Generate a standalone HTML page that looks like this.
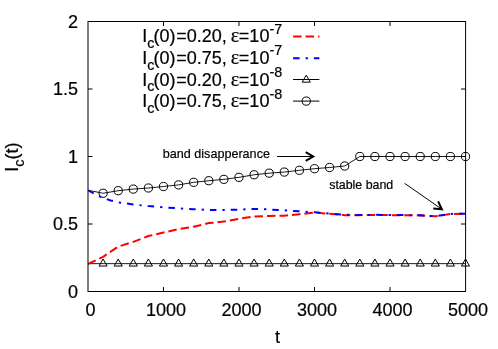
<!DOCTYPE html>
<html><head><meta charset="utf-8"><title>chart</title>
<style>
html,body{margin:0;padding:0;background:#fff;}
svg{display:block;will-change:transform;}
text{font-family:"Liberation Sans",sans-serif;fill:#000;stroke:#000;stroke-width:0.2;}
</style></head><body>
<svg width="498" height="349" viewBox="0 0 498 349">
<rect width="498" height="349" fill="#fff"/>
<g stroke="#000" stroke-width="1" fill="none">
<path d="M163.50,291.5 v-4.5 M163.50,21.5 v4.5"/>
<path d="M239.00,291.5 v-4.5 M239.00,21.5 v4.5"/>
<path d="M314.50,291.5 v-4.5 M314.50,21.5 v4.5"/>
<path d="M390.00,291.5 v-4.5 M390.00,21.5 v4.5"/>
<path d="M88.0,224.00 h4.5 M465.5,224.00 h-4.5"/>
<path d="M88.0,156.50 h4.5 M465.5,156.50 h-4.5"/>
<path d="M88.0,89.00 h4.5 M465.5,89.00 h-4.5"/>
</g>
<g font-size="18" text-anchor="end">
<text x="78.0" y="297.80">0</text>
<text x="78.0" y="230.30">0.5</text>
<text x="78.0" y="162.80">1</text>
<text x="78.0" y="95.30">1.5</text>
<text x="78.0" y="27.80">2</text>
</g>
<g font-size="18" text-anchor="middle">
<text x="90.50" y="315.7">0</text>
<text x="166.00" y="315.7">1000</text>
<text x="241.50" y="315.7">2000</text>
<text x="317.00" y="315.7">3000</text>
<text x="392.50" y="315.7">4000</text>
<text x="468.00" y="315.7">5000</text>
<text x="277.4" y="343.1">t</text>
</g>
<text font-size="18" text-anchor="middle" transform="translate(18.4,157.1) rotate(-90)">I<tspan font-size="14.4" dy="5.5">c</tspan><tspan dy="-5.5">(t)</tspan></text>
<text font-size="18" x="142.2" y="42.4">I<tspan font-size="14.4" dy="5.5">c</tspan><tspan dy="-5.5" dx="-0.9">(0)</tspan><tspan dx="0.7">=0.20, </tspan><tspan font-family="Liberation Serif" font-size="20" dx="-1">ε</tspan><tspan dx="-0.3">=10</tspan><tspan font-size="14.4" dy="-8.6">-7</tspan></text>
<text font-size="18" x="142.2" y="64.0">I<tspan font-size="14.4" dy="5.5">c</tspan><tspan dy="-5.5" dx="-0.9">(0)</tspan><tspan dx="0.7">=0.75, </tspan><tspan font-family="Liberation Serif" font-size="20" dx="-1">ε</tspan><tspan dx="-0.3">=10</tspan><tspan font-size="14.4" dy="-8.6">-7</tspan></text>
<text font-size="18" x="142.2" y="85.5">I<tspan font-size="14.4" dy="5.5">c</tspan><tspan dy="-5.5" dx="-0.9">(0)</tspan><tspan dx="0.7">=0.20, </tspan><tspan font-family="Liberation Serif" font-size="20" dx="-1">ε</tspan><tspan dx="-0.3">=10</tspan><tspan font-size="14.4" dy="-8.6">-8</tspan></text>
<text font-size="18" x="142.2" y="107.1">I<tspan font-size="14.4" dy="5.5">c</tspan><tspan dy="-5.5" dx="-0.9">(0)</tspan><tspan dx="0.7">=0.75, </tspan><tspan font-family="Liberation Serif" font-size="20" dx="-1">ε</tspan><tspan dx="-0.3">=10</tspan><tspan font-size="14.4" dy="-8.6">-8</tspan></text>
<path d="M293.1,36.5 H319.4" stroke="#f00" stroke-width="2" stroke-dasharray="8.5,4" fill="none"/>
<path d="M293.1,58.2 H319.4" stroke="#00f" stroke-width="2" stroke-dasharray="6.5,6,2.3,6" fill="none"/>
<path d="M293.1,79.5 H319.4" stroke="#000" stroke-width="1" fill="none"/>
<path d="M293.1,101.1 H319.4" stroke="#000" stroke-width="1" fill="none"/>
<g stroke="#000" stroke-width="1" fill="none">
<path d="M306.25,75.10 L310.32,82.15 L302.18,82.15 Z"/>
<circle cx="306.25" cy="101.1" r="4.1"/>
<path d="M88.0,263.65 H465.5" stroke-width="0.9"/>
<path d="M103.10,259.00 L107.17,266.05 L99.03,266.05 Z"/>
<path d="M118.20,259.00 L122.27,266.05 L114.13,266.05 Z"/>
<path d="M133.30,259.00 L137.37,266.05 L129.23,266.05 Z"/>
<path d="M148.40,259.00 L152.47,266.05 L144.33,266.05 Z"/>
<path d="M163.50,259.00 L167.57,266.05 L159.43,266.05 Z"/>
<path d="M178.60,259.00 L182.67,266.05 L174.53,266.05 Z"/>
<path d="M193.70,259.00 L197.77,266.05 L189.63,266.05 Z"/>
<path d="M208.80,259.00 L212.87,266.05 L204.73,266.05 Z"/>
<path d="M223.90,259.00 L227.97,266.05 L219.83,266.05 Z"/>
<path d="M239.00,259.00 L243.07,266.05 L234.93,266.05 Z"/>
<path d="M254.10,259.00 L258.17,266.05 L250.03,266.05 Z"/>
<path d="M269.20,259.00 L273.27,266.05 L265.13,266.05 Z"/>
<path d="M284.30,259.00 L288.37,266.05 L280.23,266.05 Z"/>
<path d="M299.40,259.00 L303.47,266.05 L295.33,266.05 Z"/>
<path d="M314.50,259.00 L318.57,266.05 L310.43,266.05 Z"/>
<path d="M329.60,259.00 L333.67,266.05 L325.53,266.05 Z"/>
<path d="M344.70,259.00 L348.77,266.05 L340.63,266.05 Z"/>
<path d="M359.80,259.00 L363.87,266.05 L355.73,266.05 Z"/>
<path d="M374.90,259.00 L378.97,266.05 L370.83,266.05 Z"/>
<path d="M390.00,259.00 L394.07,266.05 L385.93,266.05 Z"/>
<path d="M405.10,259.00 L409.17,266.05 L401.03,266.05 Z"/>
<path d="M420.20,259.00 L424.27,266.05 L416.13,266.05 Z"/>
<path d="M435.30,259.00 L439.37,266.05 L431.23,266.05 Z"/>
<path d="M450.40,259.00 L454.47,266.05 L446.33,266.05 Z"/>
<path d="M465.50,259.00 L469.57,266.05 L461.43,266.05 Z"/>
<path d="M88.00,190.25 L103.10,193.26 L118.20,190.70 L133.30,189.08 L148.40,188.00 L163.50,186.51 L178.60,184.89 L193.70,182.33 L208.80,180.71 L223.90,179.36 L239.00,177.33 L254.10,174.77 L269.20,173.15 L284.30,172.07 L299.40,170.31 L314.50,168.69 L329.60,167.48 L344.70,165.99 L359.80,156.50 L374.90,156.50 L390.00,156.50 L405.10,156.50 L420.20,156.50 L435.30,156.50 L450.40,156.50 L465.50,156.50" stroke-width="0.9"/>
<circle cx="103.10" cy="193.26" r="4.1"/>
<circle cx="118.20" cy="190.70" r="4.1"/>
<circle cx="133.30" cy="189.08" r="4.1"/>
<circle cx="148.40" cy="188.00" r="4.1"/>
<circle cx="163.50" cy="186.51" r="4.1"/>
<circle cx="178.60" cy="184.89" r="4.1"/>
<circle cx="193.70" cy="182.33" r="4.1"/>
<circle cx="208.80" cy="180.71" r="4.1"/>
<circle cx="223.90" cy="179.36" r="4.1"/>
<circle cx="239.00" cy="177.33" r="4.1"/>
<circle cx="254.10" cy="174.77" r="4.1"/>
<circle cx="269.20" cy="173.15" r="4.1"/>
<circle cx="284.30" cy="172.07" r="4.1"/>
<circle cx="299.40" cy="170.31" r="4.1"/>
<circle cx="314.50" cy="168.69" r="4.1"/>
<circle cx="329.60" cy="167.48" r="4.1"/>
<circle cx="344.70" cy="165.99" r="4.1"/>
<circle cx="359.80" cy="156.50" r="4.1"/>
<circle cx="374.90" cy="156.50" r="4.1"/>
<circle cx="390.00" cy="156.50" r="4.1"/>
<circle cx="405.10" cy="156.50" r="4.1"/>
<circle cx="420.20" cy="156.50" r="4.1"/>
<circle cx="435.30" cy="156.50" r="4.1"/>
<circle cx="450.40" cy="156.50" r="4.1"/>
<circle cx="465.50" cy="156.50" r="4.1"/>
</g>
<path d="M88.00,264.00 L103.10,256.85 L118.20,246.59 L133.30,241.86 L148.40,236.06 L163.50,232.55 L178.60,229.17 L193.70,226.74 L208.80,223.10 L223.90,221.61 L239.00,218.78 L254.10,216.48 L269.20,215.94 L284.30,215.67 L299.40,214.19 L314.50,212.70 L329.60,213.78 L344.70,215.13 L359.80,215.13 L374.90,215.00 L390.00,215.13 L405.10,215.27 L420.20,215.40 L435.30,216.35 L450.40,214.05 L465.50,213.78" stroke="#f00" stroke-width="2" stroke-dasharray="8.5,4" fill="none"/>
<path d="M88.00,190.25 L95.55,194.48 L103.10,197.85 L110.65,200.55 L118.20,202.31 L133.30,204.47 L148.40,206.09 L163.50,207.30 L178.60,208.38 L193.70,209.19 L208.80,209.87 L223.90,210.00 L239.00,209.60 L254.10,208.92 L269.20,209.46 L284.30,210.27 L299.40,211.35 L314.50,212.30 L329.60,213.51 L344.70,214.73 L359.80,215.00 L374.90,214.86 L390.00,215.00 L405.10,215.13 L420.20,215.27 L435.30,216.21 L450.40,213.92 L465.50,213.65" stroke="#00f" stroke-width="2" stroke-dasharray="6.5,6,2.3,6" fill="none"/>
<g font-size="12.6" stroke-width="0.1">
<text x="162.8" y="158.2">band disapperance</text>
<text x="329.2" y="188.9" font-size="12.4">stable band</text>
</g>
<g stroke="#000" stroke-width="1" fill="none">
<path d="M277.00,156.50 L313.20,156.50" stroke-width="1"/>
<path d="M305.67,152.15 L313.20,156.50 L305.67,160.85" stroke-width="2.0" stroke-linejoin="miter" stroke-miterlimit="10"/>
<path d="M404.60,183.30 L441.86,209.26" stroke-width="1"/>
<path d="M438.16,201.38 L441.86,209.26 L433.19,208.52" stroke-width="2.0" stroke-linejoin="miter" stroke-miterlimit="10"/>
</g>
<rect x="88.0" y="21.5" width="377.6" height="270.0" fill="none" stroke="#000" stroke-width="1"/>
</svg>
</body></html>
